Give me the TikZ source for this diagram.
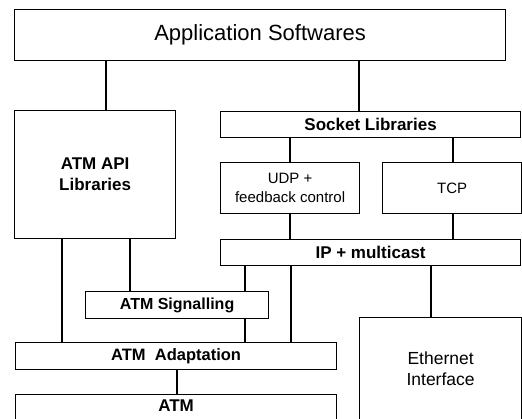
\documentclass[tikz,border=0pt]{standalone}
\usepackage{fontspec}
\setmainfont{Liberation Sans}
\begin{document}
\begin{tikzpicture}[x=1pt,y=-1pt,
  box/.style={draw=black, line width=1.2pt, inner sep=0pt, anchor=north west, align=center},
  conn/.style={draw=black, line width=1.2pt},
  bigtxt/.style={font=\fontsize{22}{24}\selectfont},
  boldtxt/.style={font=\fontsize{17}{21}\selectfont\bfseries},
  smalltxt/.style={font=\fontsize{15}{19}\selectfont},
  midtxt/.style={font=\fontsize{17.5}{21}\selectfont}]
\useasboundingbox (0,0) rectangle (522,418);
\clip (0,0) rectangle (522,418);
\fill[white] (0,0) rectangle (522,418);
% boxes
\node[box, bigtxt, minimum width=491pt, minimum height=51pt] (app) at (14,9) {Application Softwares};
\node[box, boldtxt, minimum width=161pt, minimum height=128pt] (api) at (14,110) {ATM API\\Libraries};
\node[box, boldtxt, minimum width=300pt, minimum height=26pt] (sock) at (220,111) {Socket Libraries};
\node[box, smalltxt, minimum width=139pt, minimum height=51pt] (udp) at (220,162) {UDP +\\feedback control};
\node[box, smalltxt, minimum width=139pt, minimum height=51pt] (tcp) at (382,162) {TCP};
\node[box, boldtxt, minimum width=300pt, minimum height=26pt] (ip) at (220,239) {IP + multicast};
\node[box, boldtxt, font=\fontsize{16}{20}\selectfont\bfseries, minimum width=183pt, minimum height=27pt] (sig) at (85,291) {ATM Signalling};
\node[box, boldtxt, font=\fontsize{16.5}{20}\selectfont\bfseries, minimum width=321pt, minimum height=27pt] (adapt) at (15,342) {ATM\ \ Adaptation};
\node[box, boldtxt, minimum width=321pt, text height=17pt, text depth=33pt] (atm) at (15,394) {ATM};
\node[box, midtxt, minimum width=162pt, minimum height=103pt] (eth) at (359,317) {Ethernet\\Interface};
% connector x positions
\coordinate (c1) at (106,0);
\coordinate (c2) at (359,0);
\coordinate (c3) at (290,0);
\coordinate (c4) at (453,0);
\coordinate (c5) at (62,0);
\coordinate (c6) at (130,0);
\coordinate (c7) at (245,0);
\coordinate (c8) at (291,0);
\coordinate (c9) at (431,0);
\coordinate (c10) at (177,0);
% connectors
\draw[conn] (c1 |- app.south) -- (c1 |- api.north);
\draw[conn] (c2 |- app.south) -- (c2 |- sock.north);
\draw[conn] (c3 |- sock.south) -- (c3 |- udp.north);
\draw[conn] (c4 |- sock.south) -- (c4 |- tcp.north);
\draw[conn] (c3 |- udp.south) -- (c3 |- ip.north);
\draw[conn] (c4 |- tcp.south) -- (c4 |- ip.north);
\draw[conn] (c5 |- api.south) -- (c5 |- adapt.north);
\draw[conn] (c6 |- api.south) -- (c6 |- sig.north);
\draw[conn] (c7 |- ip.south) -- (c7 |- sig.north);
\draw[conn] (c7 |- sig.south) -- (c7 |- adapt.north);
\draw[conn] (c8 |- ip.south) -- (c8 |- adapt.north);
\draw[conn] (c9 |- ip.south) -- (c9 |- eth.north);
\draw[conn] (c10 |- adapt.south) -- (c10 |- atm.north);
\end{tikzpicture}
\end{document}
